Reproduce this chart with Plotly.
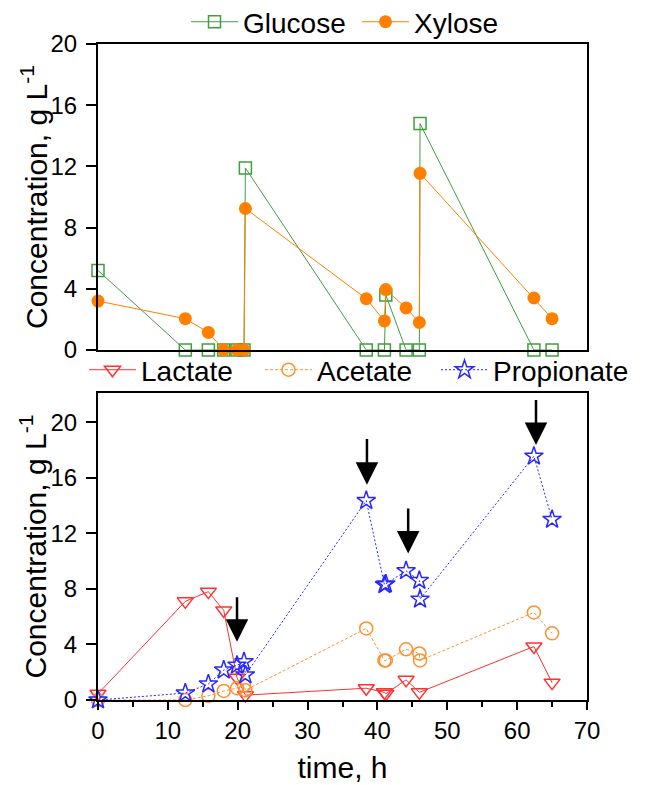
import plotly.graph_objects as go

# ---------------- data ----------------
time_sugar = [0, 12.5, 15.8, 18.0, 19.9, 20.9, 21.1, 38.4, 41.0, 41.2, 44.1, 46.0, 46.1, 62.4, 65.0]
glucose = [5.2, 0, 0, 0, 0, 0, 11.9, 0, 0, 3.6, 0, 0, 14.8, 0, 0]
xylose = [3.2, 2.05, 1.15, 0, 0, 0, 9.25, 3.35, 1.9, 3.95, 2.75, 1.8, 11.55, 3.4, 2.05]

time_lactate = [0, 12.5, 15.8, 18.0, 19.9, 21.1, 38.4, 41.0, 41.2, 44.1, 46.0, 62.4, 65.0]
lactate = [0.45, 7.1, 7.8, 6.45, 1.6, 0.35, 0.85, 0.55, 0.45, 1.45, 0.55, 3.85, 1.25]

time_acids = [0, 12.5, 15.8, 18.0, 19.9, 20.9, 21.1, 38.4, 41.0, 41.2, 44.1, 46.0, 46.1, 62.4, 65.0]
acetate = [0, 0, 0.3, 0.65, 0.85, 1.05, 0.7, 5.15, 2.85, 2.85, 3.65, 3.35, 2.85, 6.3, 4.8]
propionate = [0, 0.5, 1.15, 2.15, 2.5, 2.75, 1.8, 14.35, 8.3, 8.35, 9.3, 8.6, 7.25, 17.55, 13.0]

# feeding arrows (time, tip value, tail value)
arrow_time = [19.9, 38.5, 44.4, 62.7]
arrow_tip = [4.2, 15.5, 10.55, 18.35]
arrow_tail = [7.5, 18.9, 13.9, 21.7]

FONT = "Liberation Sans, Arial, sans-serif"
GREEN = "#3f9f3f"
ORANGE = "#ff8000"
RED = "#ff3030"
ACORANGE = "#ff9030"
BLUE = "#2828ff"

W, H = 646, 785
ML, MR, MT, MB = 20, 20, 44, 85
PW = W - ML - MR
XDOM = [(98 - ML) / PW, (587 - ML) / PW]
ITEMW = 47

fig = go.Figure()

# top panel
fig.add_trace(go.Scatter(x=time_sugar, y=glucose, name="Glucose", mode="lines+markers",
                         xaxis="x2", yaxis="y2", legend="legend", cliponaxis=False, legendwidth=109,
                         line=dict(color=GREEN, width=1),
                         marker=dict(symbol="square-open", size=12, color=GREEN, line=dict(width=1.5))))
fig.add_trace(go.Scatter(x=time_sugar, y=xylose, name="Xylose", mode="lines+markers",
                         xaxis="x2", yaxis="y2", legend="legend", cliponaxis=False,
                         line=dict(color=ORANGE, width=1),
                         marker=dict(symbol="circle", size=13, color=ORANGE)))

# bottom panel
fig.add_trace(go.Scatter(x=time_lactate, y=lactate, name="Lactate", mode="lines+markers",
                         xaxis="x", yaxis="y", legend="legend2", cliponaxis=False, legendwidth=114,
                         line=dict(color=RED, width=1),
                         marker=dict(symbol="triangle-down-open", size=14, color=RED, line=dict(width=1.5))))
fig.add_trace(go.Scatter(x=time_acids, y=acetate, name="Acetate", mode="lines+markers",
                         xaxis="x", yaxis="y", legend="legend2", cliponaxis=False, legendwidth=114,
                         line=dict(color=ACORANGE, width=1, dash="3px,2px"),
                         marker=dict(symbol="circle-open", size=13, color=ACORANGE, line=dict(width=1.5))))
fig.add_trace(go.Scatter(x=time_acids, y=propionate, name="Propionate", mode="lines+markers",
                         xaxis="x", yaxis="y", legend="legend2", cliponaxis=False,
                         line=dict(color=BLUE, width=1, dash="2px,2px"),
                         marker=dict(symbol="star-open", size=14, color=BLUE, line=dict(width=1.5))))

annotations = []
for t, tip, tail in zip(arrow_time, arrow_tip, arrow_tail):
    annotations.append(dict(x=t, y=tip, ax=t, ay=tail, xref="x", yref="y", axref="x", ayref="y",
                            text="", showarrow=True, arrowhead=2, arrowsize=1.8, arrowwidth=2.5,
                            arrowcolor="black"))

ytitle = "Concentration, g L<sup>-1</sup>"
for yref in ["y2 domain", "y domain"]:
    annotations.append(dict(x=0, y=0.5, xref="x domain", yref=yref, xshift=-64, text=ytitle,
                            textangle=-90, showarrow=False, xanchor="center", yanchor="middle",
                            font=dict(size=30, family=FONT, color="black")))

axis_common = dict(showline=True, linewidth=2, linecolor="black", mirror=True,
                   showgrid=False, zeroline=False, tickwidth=2, tickcolor="black",
                   tickfont=dict(size=24, family=FONT, color="black"))

fig.update_layout(
    width=W, height=H,
    margin=dict(l=ML, r=MR, t=MT, b=MB, autoexpand=False),
    paper_bgcolor="white", plot_bgcolor="white",
    font=dict(family=FONT, color="black"),
    xaxis=dict(domain=XDOM, anchor="y", range=[0, 70], dtick=10, ticks="outside", ticklen=8,
               minor=dict(dtick=5, ticks="outside", ticklen=5, tickwidth=2, tickcolor="black"),
               title=dict(text="time, h", font=dict(size=30, family=FONT), standoff=14),
               **axis_common),
    yaxis=dict(domain=[0, 0.468], anchor="x", range=[0, 22.1], dtick=4, ticks="outside", ticklen=10,
               ticklabelstandoff=4, **axis_common),
    xaxis2=dict(domain=XDOM, anchor="y2", range=[0, 70], ticks="", showticklabels=False,
                **axis_common),
    yaxis2=dict(domain=[0.5335, 1], anchor="x2", range=[0, 20], dtick=4, ticks="outside", ticklen=10,
                ticklabelstandoff=4, **axis_common),
    legend=dict(orientation="h", x=(186 - ML) / PW, xanchor="left", y=1.0335, yanchor="middle",
                itemwidth=ITEMW,
                font=dict(size=28, family=FONT), bgcolor="rgba(0,0,0,0)"),
    legend2=dict(orientation="h", x=(84 - ML) / PW, xanchor="left", y=0.503, yanchor="middle",
                 itemwidth=ITEMW,
                 font=dict(size=28, family=FONT), bgcolor="rgba(0,0,0,0)"),
    annotations=annotations,
    showlegend=True,
)

fig.write_html("out.html", config={"displayModeBar": False},
               post_script="document.body.style.margin='0';")
